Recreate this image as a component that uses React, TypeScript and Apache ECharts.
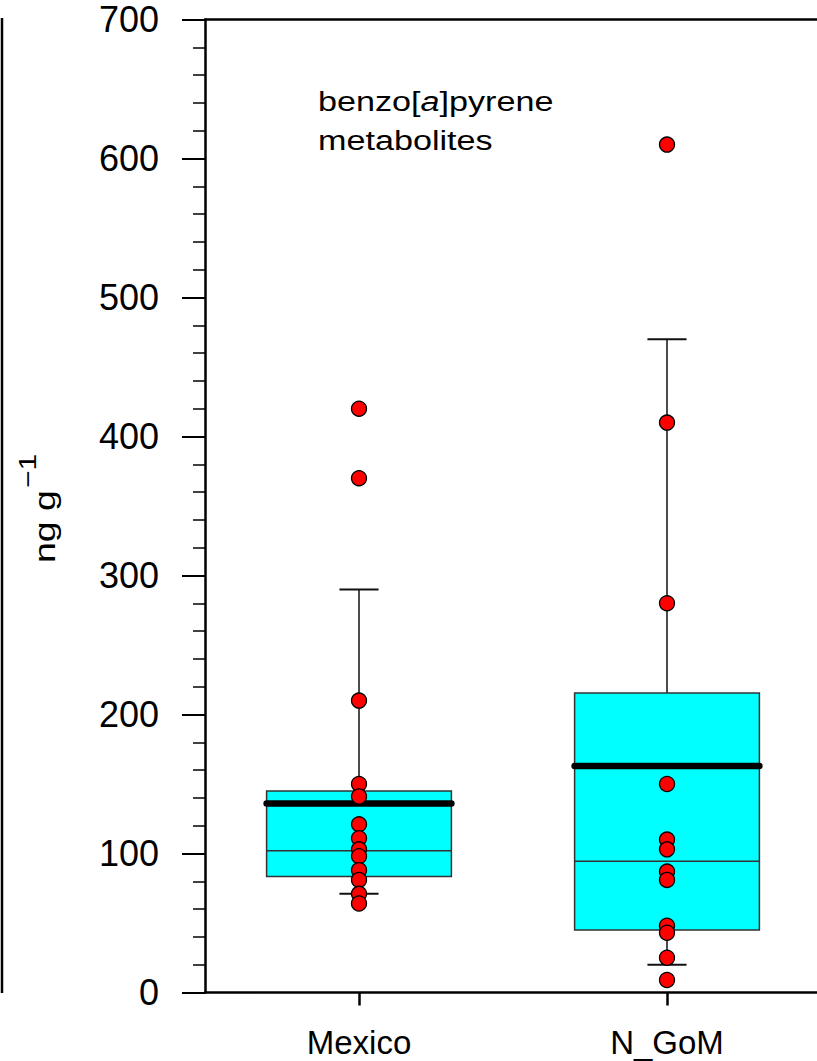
import React, { useEffect, useRef } from "react";
import * as echarts from "echarts";

const categories = ["Mexico", "N_GoM"];
const whiskerLow = [71, 20];
const q1 = [83.5, 45];
const median = [102, 94.5];
const q3 = [145, 215.5];
const whiskerHigh = [290, 470];
const mean = [136, 163];
const mexicoPoints = [420, 370, 210, 150, 141, 121, 111, 103, 98, 88, 81, 71, 64];
const ngomPoints = [610, 410, 280, 150, 110, 103, 87, 81, 48, 43, 25, 9];
const yTicks = [0, 100, 200, 300, 400, 500, 600, 700];

const FONT = "Arial, 'Liberation Sans', sans-serif";

export default function App() {
  const ref = useRef<HTMLDivElement>(null);
  useEffect(() => {
    if (!ref.current) return;
    const chart = echarts.init(ref.current, null, { renderer: "svg" });

    const boxData = categories.map((_, i) => [
      i,
      whiskerLow[i],
      q1[i],
      median[i],
      q3[i],
      whiskerHigh[i],
      mean[i],
    ]);
    const pointData: number[][] = [];
    mexicoPoints.forEach((v) => pointData.push([0, v]));
    ngomPoints.forEach((v) => pointData.push([1, v]));

    chart.setOption({
      animation: false,
      backgroundColor: "#ffffff",
      grid: {
        left: 205,
        right: -4,
        top: 19.5,
        bottom: 68.5,
        containLabel: false,
        outerBoundsMode: "none",
      },
      xAxis: [
        {
          type: "category",
          data: categories,
          position: "bottom",
          axisLine: { show: true, lineStyle: { color: "#000", width: 2.5 } },
          axisTick: { show: true, alignWithLabel: true, length: 13, lineStyle: { color: "#000", width: 2.5 } },
          axisLabel: { show: true, color: "#000", fontSize: 33, fontFamily: FONT, margin: 33 },
          splitLine: { show: false },
        },
        {
          type: "category",
          data: categories,
          position: "top",
          axisLine: { show: true, lineStyle: { color: "#000", width: 2.5 } },
          axisTick: { show: false },
          axisLabel: { show: false },
          splitLine: { show: false },
        },
      ],
      yAxis: {
        type: "value",
        min: 0,
        max: 700,
        interval: 100,
        axisLine: { show: true, lineStyle: { color: "#000", width: 2.5 } },
        axisTick: { show: true, length: 23, lineStyle: { color: "#000", width: 2 } },
        minorTick: { show: true, splitNumber: 5, length: 12, lineStyle: { color: "#000", width: 1.5 } },
        axisLabel: {
          show: true,
          color: "#000",
          fontSize: 36,
          fontFamily: FONT,
          margin: 46,
          formatter: (v: number) => (yTicks.includes(v) ? String(v) : ""),
        },
        splitLine: { show: false },
      },
      graphic: [
        {
          type: "line",
          shape: { x1: 2, y1: 18, x2: 2, y2: 993 },
          style: { stroke: "#000", lineWidth: 2.5 },
        },
        {
          type: "text",
          x: 318,
          y: 102,
          scaleX: 1.22,
          style: {
            text: "{n|benzo[}{i|a}{n|]pyrene}",
            fontSize: 28,
            fontFamily: FONT,
            fill: "#000",
            verticalAlign: "middle",
            align: "left",
            rich: {
              n: { fontSize: 28, fontFamily: FONT, fill: "#000" },
              i: { fontSize: 28, fontFamily: FONT, fill: "#000", fontStyle: "italic" },
            },
          },
        },
        {
          type: "text",
          x: 318,
          y: 141,
          scaleX: 1.22,
          style: {
            text: "metabolites",
            fontSize: 28,
            fontFamily: FONT,
            fill: "#000",
            verticalAlign: "middle",
            align: "left",
          },
        },
        {
          type: "group",
          x: 44.5,
          y: 563,
          rotation: Math.PI / 2,
          scaleX: 1.25,
          children: [
            {
              type: "text",
              x: 0,
              y: 0,
              style: {
                text: "ng g",
                fontSize: 30,
                fontFamily: FONT,
                fill: "#000",
                verticalAlign: "middle",
                align: "left",
              },
            },
            {
              type: "text",
              x: 60,
              y: -17,
              style: {
                text: "\u22121",
                fontSize: 24,
                fontFamily: FONT,
                fill: "#000",
                verticalAlign: "middle",
                align: "left",
              },
            },
          ],
        },
      ],
      series: [
        {
          type: "custom",
          xAxisIndex: 0,
          yAxisIndex: 0,
          data: boxData,
          z: 2,
          renderItem: (params: any, api: any) => {
            const idx = api.value(0);
            const x = api.coord([idx, 0])[0];
            const band = api.size([1, 0])[0];
            const boxW = band * 0.6;
            const capW = band * 0.127;
            const yLow = api.coord([idx, api.value(1)])[1];
            const yQ1 = api.coord([idx, api.value(2)])[1];
            const yMed = api.coord([idx, api.value(3)])[1];
            const yQ3 = api.coord([idx, api.value(4)])[1];
            const yHigh = api.coord([idx, api.value(5)])[1];
            const yMean = api.coord([idx, api.value(6)])[1];
            const lineStyle = { stroke: "#111", lineWidth: 1.5 };
            return {
              type: "group",
              children: [
                { type: "line", shape: { x1: x, y1: yQ3, x2: x, y2: yHigh }, style: lineStyle },
                { type: "line", shape: { x1: x - capW / 2, y1: yHigh, x2: x + capW / 2, y2: yHigh }, style: { stroke: "#111", lineWidth: 2 } },
                { type: "line", shape: { x1: x, y1: yQ1, x2: x, y2: yLow }, style: lineStyle },
                { type: "line", shape: { x1: x - capW / 2, y1: yLow, x2: x + capW / 2, y2: yLow }, style: { stroke: "#111", lineWidth: 2 } },
                {
                  type: "rect",
                  shape: { x: x - boxW / 2, y: yQ3, width: boxW, height: yQ1 - yQ3 },
                  style: { fill: "#00FFFF", stroke: "#333", lineWidth: 1.5 },
                },
                {
                  type: "line",
                  shape: { x1: x - boxW / 2, y1: yMed, x2: x + boxW / 2, y2: yMed },
                  style: { stroke: "#333", lineWidth: 1.5 },
                },
                {
                  type: "line",
                  shape: { x1: x - boxW / 2, y1: yMean, x2: x + boxW / 2, y2: yMean },
                  style: { stroke: "#000", lineWidth: 6.5, lineCap: "round" },
                },
              ],
            };
          },
        },
        {
          type: "scatter",
          xAxisIndex: 0,
          yAxisIndex: 0,
          data: pointData,
          z: 3,
          symbol: "circle",
          symbolSize: 15,
          itemStyle: { color: "#FF0000", borderColor: "#000", borderWidth: 1.3, opacity: 1 },
        },
      ],
    });
    return () => chart.dispose();
  }, []);
  return (
    <div
      ref={ref}
      style={{ position: "fixed", left: 0, top: 0, width: 817, height: 1061, background: "#fff" }}
    />
  );
}
